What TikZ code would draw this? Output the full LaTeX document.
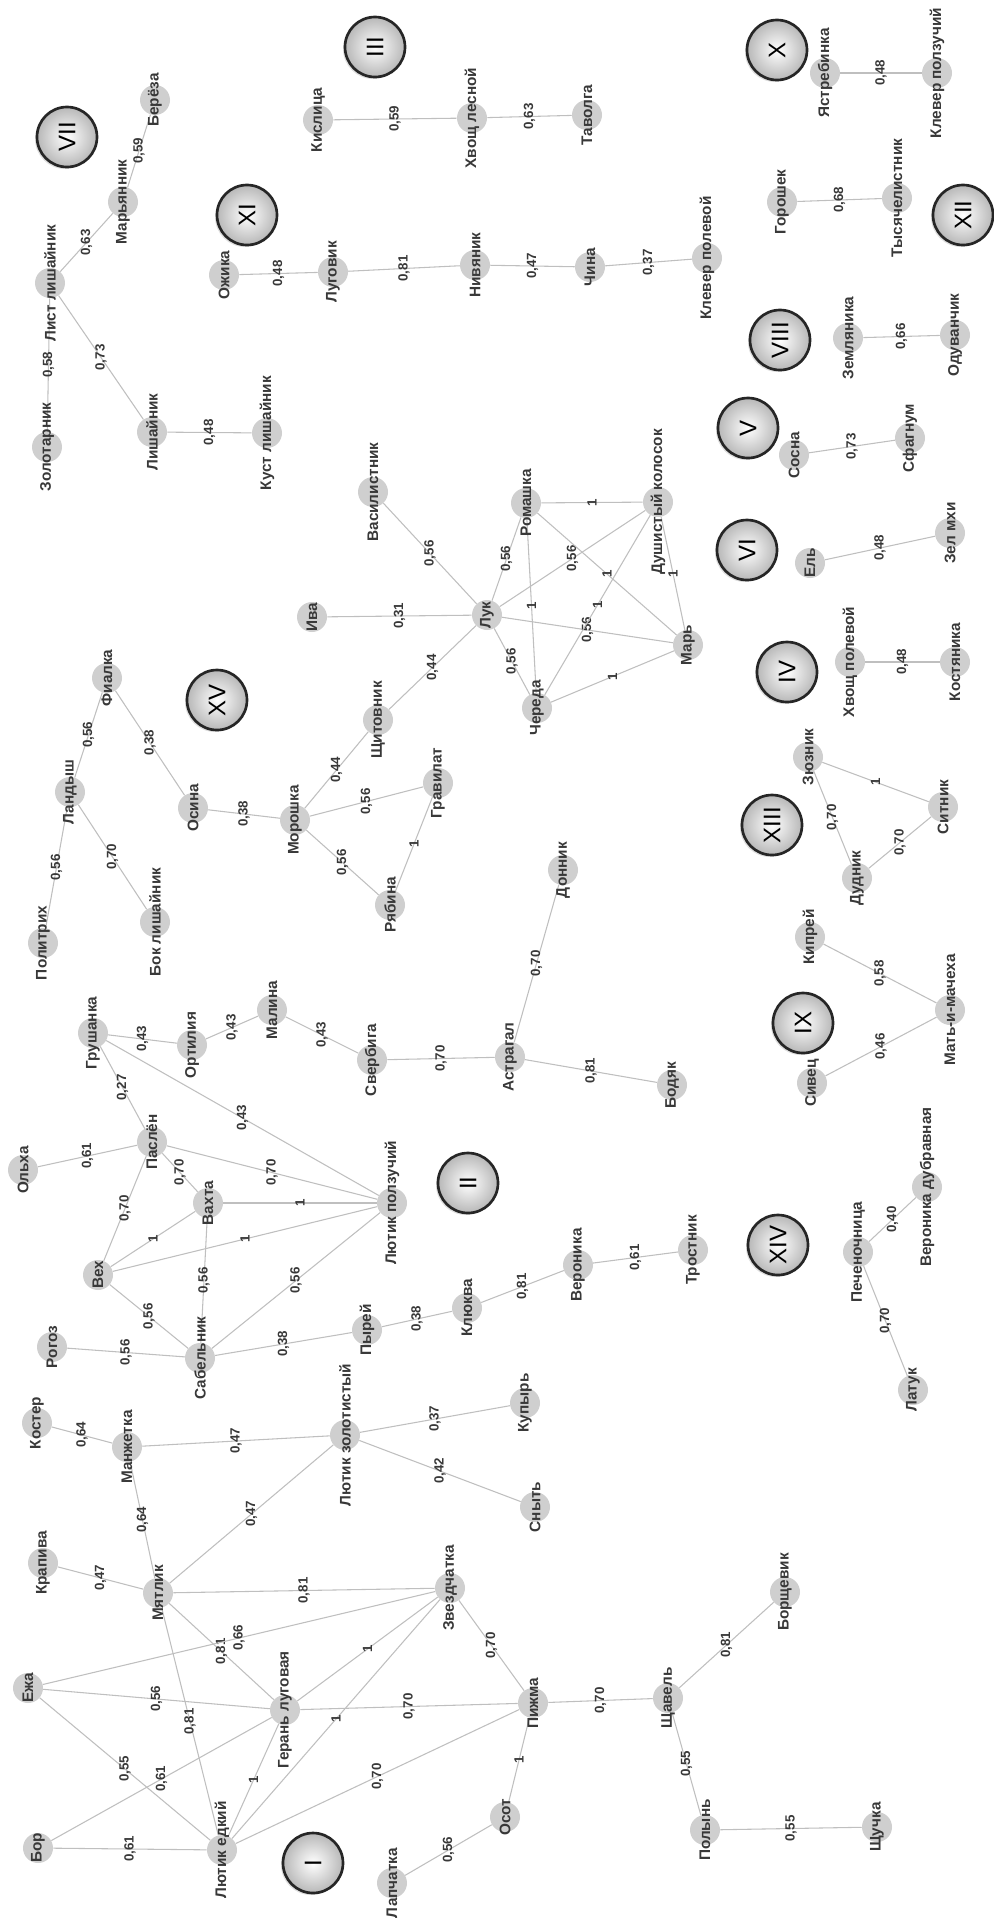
\documentclass[tikz,border=0pt]{standalone}
\usepackage{fontspec}
\setmainfont{Liberation Sans}
\usetikzlibrary{shadows}

\def\plants{zolot/47/447/Золотарник, list/50/283/Лист лишайник, marya/123/202/Марьянник,
  bereza/155/100/Берёза, lish/152/432/Лишайник, kust/267/433/Куст лишайник,
  kisl/318/120/Кислица, hvles/472/118/Хвощ лесной, tavol/587/115/Таволга,
  ozhika/224/275/Ожика, lugov/333/272/Луговик, nivyan/475/265/Нивяник, china/590/267/Чина,
  klpole/707/258/Клевер полевой, yastr/825/73/Ястребинка, klpolz/937/73/Клевер ползучий,
  gorosh/782/202/Горошек, tysyach/897/198/Тысячелистник, zemlyan/848/338/Земляника,
  oduv/955/335/Одуванчик, sosna/794/455/Сосна, sfagn/910/438/Сфагнум, el/810/563/Ель,
  zelmhi/950/533/Зел мхи, hvpole/850/662/Хвощ полевой, kostyan/955/662/Костяника,
  zyuz/808/757/Зюзник, sitnik/943/807/Ситник, dudnik/857/878/Дудник, kiprey/810/937/Кипрей,
  mat/950/1010/Мать-и-мачеха, sivets/812/1083/Сивец, pechen/858/1252/Печеночница,
  verdub/927/1187/Вероника дубравная, latuk/913/1390/Латук, politr/43/943/Политрих,
  landysh/70/792/Ландыш, fialka/107/678/Фиалка, bok/155/922/Бок лишайник, osina/193/808/Осина,
  morosh/295/820/Морошка, shchit/378/720/Щитовник, gravil/438/783/Гравилат, ryab/390/905/Рябина,
  luk/487/615/Лук, iva/312/617/Ива, vasil/373/492/Василистник, romash/526/503/Ромашка,
  dush/658/502/Душистый колосок, mar/688/645/Марь, chered/537/708/Череда,
  grush/93/1033/Грушанка, ortil/192/1045/Ортилия, malina/272/1010/Малина, sverb/372/1060/Свербига,
  astrag/510/1057/Астрагал, donnik/563/870/Донник, bodyak/672/1085/Бодяк, paslen/152/1142/Паслён,
  olha/23/1170/Ольха, lpolz/392/1203/Лютик ползучий, vahta/208/1203/Вахта, veh/98/1275/Вех,
  sabel/200/1358/Сабельник, rogoz/52/1347/Рогоз, pyrey/367/1330/Пырей, klyukva/467/1308/Клюква,
  veron/578/1265/Вероника, trostn/693/1250/Тростник, koster/37/1423/Костер, manzh/127/1447/Манжетка,
  lzol/345/1435/Лютик золотистый, kupyr/525/1403/Купырь, snyt/535/1507/Сныть,
  krapiva/43/1563/Крапива, myatlik/158/1593/Мятлик, zvezd/450/1588/Звездчатка, ezha/28/1688/Ежа,
  bor/38/1848/Бор, ledk/222/1850/Лютик едкий, geran/285/1710/Герань луговая, pizhma/533/1703/Пижма,
  osot/505/1817/Осот, lapch/392/1883/Лапчатка, shchav/668/1698/Щавель, borshch/785/1592/Борщевик,
  polyn/705/1830/Полынь, shchuch/877/1827/Щучка}

\begin{document}
\begin{tikzpicture}[x=0.75pt, y=-0.75pt,
  dot/.style={circle, fill=black!19, minimum size=22.5pt, inner sep=0pt},
  plab/.style={rotate=90, font=\bfseries\fontsize{11.5}{14}\selectfont, text=black!78, inner sep=0pt},
  wlab/.style={midway, rotate=90, font=\bfseries\fontsize{10}{12}\selectfont, text=black!78, inner sep=1pt},
  edge/.style={draw=black!25, line width=0.8pt},
  grp/.style={circle, draw=black!85, line width=2pt, minimum size=45pt, inner sep=0pt,
    inner color=white, outer color=black!28, rotate=90, font=\fontsize{18}{20}\selectfont,
    drop shadow={opacity=0.25, shadow xshift=-1.5pt, shadow yshift=-1.5pt}}]
\useasboundingbox (0,0) rectangle (993,1925);
\foreach \nm/\px/\py/\txt in \plants \node[dot] (\nm) at (\px,\py) {};
\foreach \pa/\pb/\wt in {list/zolot/{0,58}, list/marya/{0,63}, marya/bereza/{0,59}, list/lish/{0,73},
  lish/kust/{0,48}, kisl/hvles/{0,59}, hvles/tavol/{0,63}, ozhika/lugov/{0,48}, lugov/nivyan/{0,81},
  nivyan/china/{0,47}, china/klpole/{0,37}, yastr/klpolz/{0,48}, gorosh/tysyach/{0,68},
  zemlyan/oduv/{0,66}, sosna/sfagn/{0,73}, el/zelmhi/{0,48}, hvpole/kostyan/{0,48},
  zyuz/sitnik/1, zyuz/dudnik/{0,70}, dudnik/sitnik/{0,70}, kiprey/mat/{0,58}, sivets/mat/{0,46},
  pechen/verdub/{0,40}, pechen/latuk/{0,70}, politr/landysh/{0,56}, landysh/fialka/{0,56},
  landysh/bok/{0,70}, fialka/osina/{0,38}, osina/morosh/{0,38}, morosh/shchit/{0,44},
  morosh/gravil/{0,56}, morosh/ryab/{0,56}, ryab/gravil/1, shchit/luk/{0,44}, iva/luk/{0,31},
  vasil/luk/{0,56}, luk/romash/{0,56}, luk/dush/{0,56}, luk/mar/{0,56}, luk/chered/{0,56},
  romash/dush/1, romash/mar/1, romash/chered/1, chered/dush/1, dush/mar/1, chered/mar/1,
  grush/ortil/{0,43}, ortil/malina/{0,43}, malina/sverb/{0,43}, sverb/astrag/{0,70},
  astrag/donnik/{0,70}, astrag/bodyak/{0,81}, grush/paslen/{0,27}, grush/lpolz/{0,43},
  olha/paslen/{0,61}, paslen/lpolz/{0,70}, paslen/vahta/{0,70}, paslen/veh/{0,70},
  vahta/lpolz/1, veh/vahta/1, veh/lpolz/1, vahta/sabel/{0,56}, veh/sabel/{0,56},
  sabel/lpolz/{0,56}, rogoz/sabel/{0,56}, sabel/pyrey/{0,38}, pyrey/klyukva/{0,38},
  klyukva/veron/{0,81}, veron/trostn/{0,61}, koster/manzh/{0,64}, manzh/lzol/{0,47},
  manzh/myatlik/{0,64}, krapiva/myatlik/{0,47}, myatlik/lzol/{0,47}, lzol/kupyr/{0,37},
  lzol/snyt/{0,42}, myatlik/zvezd/{0,81}, myatlik/geran/{0,81}, myatlik/ledk/{0,81},
  ezha/zvezd/{0,66}, ezha/geran/{0,56}, ezha/ledk/{0,55}, bor/ledk/{0,61}, bor/geran/{0,61},
  ledk/geran/1, ledk/zvezd/1, geran/zvezd/1, geran/pizhma/{0,70}, ledk/pizhma/{0,70},
  zvezd/pizhma/{0,70}, osot/pizhma/1, lapch/osot/{0,56}, pizhma/shchav/{0,70},
  shchav/borshch/{0,81}, shchav/polyn/{0,55}, polyn/shchuch/{0,55}}
  \draw[edge] (\pa) -- node[wlab] {\wt} (\pb);
\foreach \nm/\px/\py/\txt in \plants \node[plab] (\nm-t) at (\nm) {\txt};
\foreach \rn/\px/\py in {I/313/1863, II/468/1183, III/375/47, IV/787/672, V/748/428, VI/747/550,
  VII/67/137, VIII/780/340, IX/803/1023, X/777/50, XI/247/215, XII/963/215, XIII/772/825,
  XIV/778/1245, XV/217/700}
  \node[grp] (g\rn) at (\px,\py) {\rn};
\end{tikzpicture}
\end{document}
